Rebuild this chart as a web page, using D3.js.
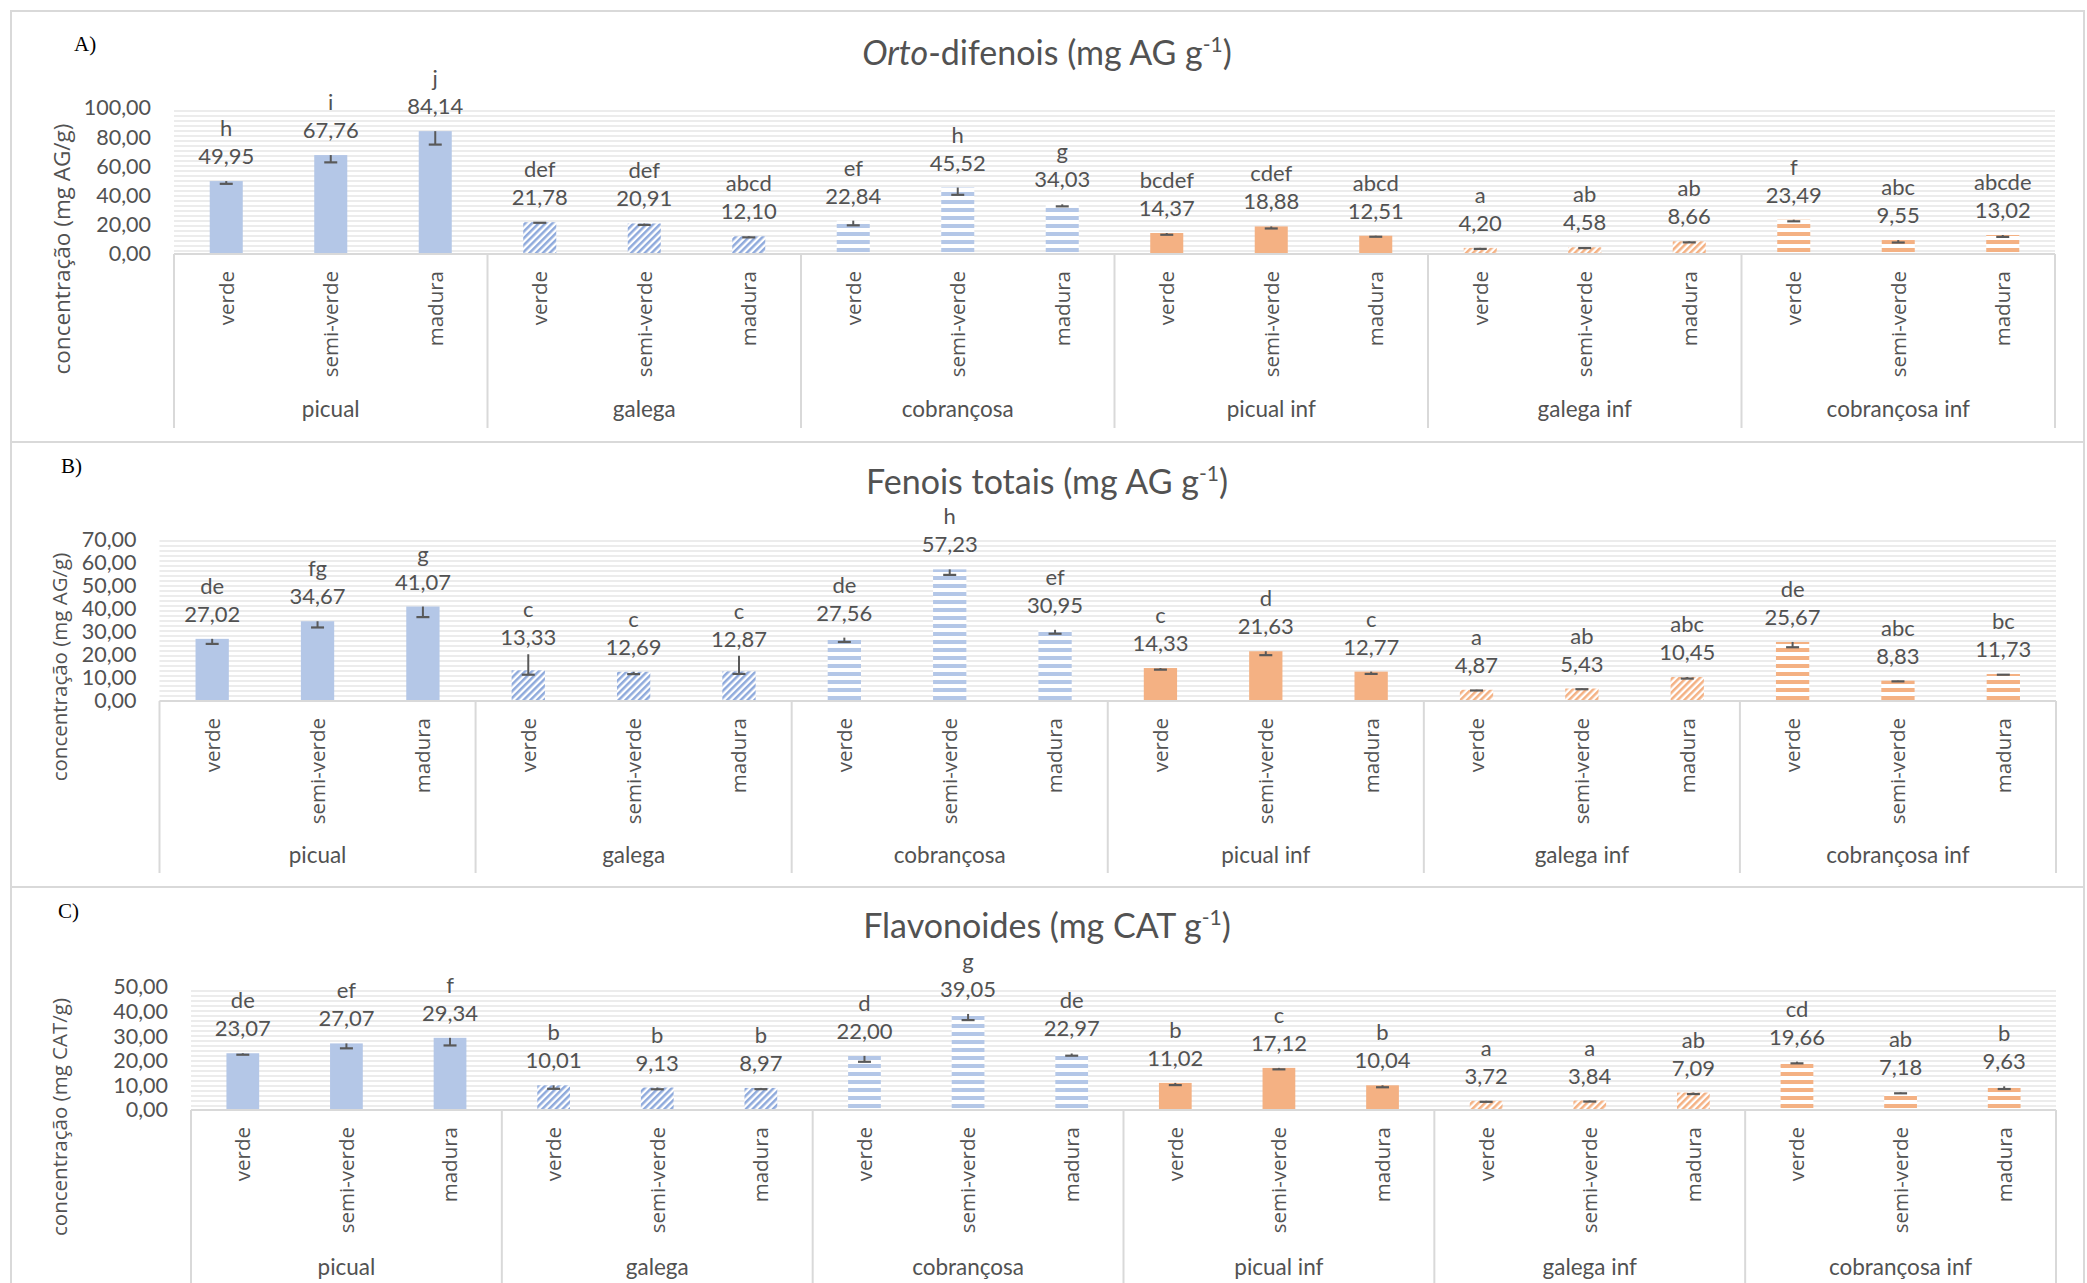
<!DOCTYPE html>
<html><head><meta charset="utf-8">
<script src="https://cdn.jsdelivr.net/npm/d3@7"></script>
<style>body{margin:0;background:#fff}</style>
</head><body><svg id="c" width="2087" height="1283" xmlns="http://www.w3.org/2000/svg"></svg>
<script>
// ---------- DATA ----------
const groups = ["picual", "galega", "cobrançosa", "picual inf", "galega inf", "cobrançosa inf"];
const stages = ["verde", "semi-verde", "madura"];

// A) Orto-difenois
const ortoValues  = [49.95, 67.76, 84.14, 21.78, 20.91, 12.10, 22.84, 45.52, 34.03, 14.37, 18.88, 12.51, 4.20, 4.58, 8.66, 23.49, 9.55, 13.02];
const ortoLetters = ["h", "i", "j", "def", "def", "abcd", "ef", "h", "g", "bcdef", "cdef", "abcd", "a", "ab", "ab", "f", "abc", "abcde"];
const ortoErrMinus = [1.9, 5.0, 9.2, 0.4, 1.0, 0.7, 3.2, 5.0, 1.4, 1.2, 1.4, 0.7, 0.7, 0.5, 0.7, 1.1, 1.7, 1.3];
const ortoErrPlus  = [0, 0, 0, 0, 0, 0, 0, 0, 0, 0, 0, 0, 0, 0, 0, 0, 0, 0];
const ortoTicks = [0, 20, 40, 60, 80, 100];

// B) Fenois totais
const fenValues  = [27.02, 34.67, 41.07, 13.33, 12.69, 12.87, 27.56, 57.23, 30.95, 14.33, 21.63, 12.77, 4.87, 5.43, 10.45, 25.67, 8.83, 11.73];
const fenLetters = ["de", "fg", "g", "c", "c", "c", "de", "h", "ef", "c", "d", "c", "a", "ab", "abc", "de", "abc", "bc"];
const fenErrMinus = [2.2, 2.7, 4.6, 1.9, 1.0, 1.1, 1.9, 2.4, 1.7, 0.7, 1.7, 1.0, 0.3, 0.3, 0.7, 2.3, 0.3, 0.3];
const fenErrPlus  = [0, 0, 0, 7.0, 0, 6.8, 0, 0, 0, 0, 0, 0, 0, 0, 0, 0, 0, 0];
const fenTicks = [0, 10, 20, 30, 40, 50, 60, 70];

// C) Flavonoides
const flaValues  = [23.07, 27.07, 29.34, 10.01, 9.13, 8.97, 22.00, 39.05, 22.97, 11.02, 17.12, 10.04, 3.72, 3.84, 7.09, 19.66, 7.18, 9.63];
const flaLetters = ["de", "ef", "f", "b", "b", "b", "d", "g", "de", "b", "c", "b", "a", "a", "ab", "cd", "ab", "b"];
const flaErrMinus = [0.6, 2.0, 3.1, 1.4, 0.7, 0.5, 2.4, 2.5, 0.9, 0.9, 0.6, 0.8, 0.4, 0.4, 0.6, 0.7, 0.4, 1.1];
const flaErrPlus  = [0, 0, 0, 0, 0, 0, 0, 0, 0, 0, 0, 0, 0, 0, 0, 0, 0, 0];
const flaTicks = [0, 10, 20, 30, 40, 50];

// ---------- STYLE ----------
const TXT = "#525252";
const CAL = "Lato, 'Open Sans', sans-serif";
const SEG = "'Open Sans', 'Noto Sans', sans-serif";
const GRID = "#d9d9d9";
const groupFill = ["#b4c7e7", "url(#diagBlue)", "url(#horBlue)", "#f4b183", "url(#diagOrange)", "url(#horOrange)"];

const svg = d3.select("#c");
const defs = svg.append("defs");

function stripePattern(id, color, w, band, rot, bg) {
  const p = defs.append("pattern").attr("id", id).attr("patternUnits", "userSpaceOnUse")
    .attr("width", rot ? w : 10).attr("height", rot ? 10 : w);
  if (rot) p.attr("patternTransform", "rotate(" + rot + ")");
  p.append("rect").attr("width", rot ? w : 10).attr("height", rot ? 10 : w).attr("fill", bg || "#fff");
  if (rot) p.append("rect").attr("x", 0).attr("y", 0).attr("width", band).attr("height", 10).attr("fill", color);
  else p.append("rect").attr("x", 0).attr("y", 0).attr("width", 10).attr("height", band).attr("fill", color);
}
stripePattern("diagBlue", "#8faadc", 4.8, 2.5, 45);
stripePattern("diagOrange", "#f4b183", 4.8, 2.5, 45);
stripePattern("horBlue", "#b4c7e7", 8, 4, 0);
stripePattern("horOrange", "#f4b183", 8, 4, 0);
stripePattern("plotBg", "#ececec", 5, 2, 0);

const fmt = v => d3.format(".2f")(v).replace(".", ",");
const keys = [];
groups.forEach(g => stages.forEach(s => keys.push(g + "|" + s)));

function drawPanel(cfg, values, letters, errMinus, errPlus, ticks) {
  const g = svg.append("g");
  // panel border
  g.append("rect").attr("x", 11).attr("y", cfg.top).attr("width", 2073).attr("height", cfg.bottom - cfg.top)
    .attr("fill", "#fff").attr("stroke", GRID).attr("stroke-width", 2);

  const x = d3.scaleBand().domain(keys).range([cfg.left, cfg.right]).paddingInner(0.684).paddingOuter(0.342);
  const xg = d3.scaleBand().domain(groups).range([cfg.left, cfg.right]);
  const y = d3.scaleLinear().domain([0, d3.max(ticks)]).range([cfg.y0, cfg.yTop]);

  // plot background
  g.append("rect").attr("x", cfg.left).attr("y", y(d3.max(ticks))).attr("width", cfg.right - cfg.left)
    .attr("height", cfg.y0 - y(d3.max(ticks))).attr("fill", "url(#plotBg)");

  // title
  const t = g.append("text").attr("x", 1047).attr("y", cfg.top + cfg.titleDy).attr("text-anchor", "middle")
    .attr("font-family", CAL).attr("font-size", 34).attr("fill", TXT);
  cfg.title.forEach(p => {
    const ts = t.append("tspan").text(p.t);
    if (p.italic) ts.attr("font-style", "italic");
    if (p.sup) ts.attr("font-size", 21).attr("dy", -13);
    if (p.after) ts.attr("dy", 13);
  });

  // panel letter
  g.append("text").attr("x", cfg.lx).attr("y", cfg.top + cfg.ly).text(cfg.label)
    .attr("font-family", "'Liberation Serif', serif").attr("font-size", 21).attr("fill", "#000");

  // y axis
  const ya = d3.axisLeft(y).tickValues(ticks).tickSize(0).tickPadding(23).tickFormat(fmt);
  const yag = g.append("g").attr("transform", "translate(" + cfg.left + ",0)").call(ya);
  yag.select(".domain").remove();
  yag.selectAll("text").attr("font-family", CAL).attr("font-size", 21.5).attr("fill", TXT);

  // y title
  g.append("text").attr("transform", "translate(" + cfg.ytx + "," + cfg.yty + ") rotate(-90)")
    .attr("text-anchor", "middle").attr("dy", "0.35em").text(cfg.yTitle)
    .attr("font-family", SEG).attr("font-size", cfg.ytSize).attr("fill", TXT);

  // bars
  keys.forEach((k, i) => {
    const gi = Math.floor(i / 3);
    g.append("rect").attr("x", x(k)).attr("y", y(values[i])).attr("width", x.bandwidth())
      .attr("height", cfg.y0 - y(values[i])).attr("fill", groupFill[gi]);
  });

  // error bars
  keys.forEach((k, i) => {
    const cx = x(k) + x.bandwidth() / 2;
    const yl = y(values[i] - errMinus[i]);
    g.append("line").attr("x1", cx).attr("x2", cx).attr("y1", y(values[i] + errPlus[i])).attr("y2", yl)
      .attr("stroke", "#595959").attr("stroke-width", 2);
    g.append("line").attr("x1", cx - 6.5).attr("x2", cx + 6.5).attr("y1", yl).attr("y2", yl)
      .attr("stroke", "#595959").attr("stroke-width", 2.2);
  });

  // data labels
  keys.forEach((k, i) => {
    const cx = x(k) + x.bandwidth() / 2;
    const yb = y(values[i]) - 17 - 0.5 * (y(values[i]) - y(values[i] + errPlus[i]));
    g.append("text").attr("x", cx).attr("y", yb).attr("text-anchor", "middle").text(fmt(values[i]))
      .attr("font-family", CAL).attr("font-size", 22).attr("fill", TXT);
    g.append("text").attr("x", cx).attr("y", yb - 28).attr("text-anchor", "middle").text(letters[i])
      .attr("font-family", CAL).attr("font-size", 22).attr("fill", TXT);
  });

  // category axis
  g.append("line").attr("x1", cfg.left).attr("x2", cfg.right).attr("y1", cfg.y0).attr("y2", cfg.y0)
    .attr("stroke", GRID).attr("stroke-width", 2);
  const seps = groups.map(gr => xg(gr)).concat([cfg.right]);
  seps.forEach(sx => g.append("line").attr("x1", sx).attr("x2", sx).attr("y1", cfg.y0).attr("y2", cfg.sepBottom)
    .attr("stroke", GRID).attr("stroke-width", 2));

  keys.forEach((k, i) => {
    const cx = x(k) + x.bandwidth() / 2;
    g.append("text").attr("transform", "translate(" + cx + "," + (cfg.y0 + 17) + ") rotate(-90)")
      .attr("text-anchor", "end").attr("dy", "0.36em").text(stages[i % 3])
      .attr("font-family", SEG).attr("font-size", 20.5).attr("fill", TXT);
  });
  groups.forEach(gr => {
    g.append("text").attr("x", xg(gr) + xg.bandwidth() / 2).attr("y", cfg.groupBase).attr("text-anchor", "middle")
      .text(gr).attr("font-family", CAL).attr("font-size", 22.5).attr("fill", TXT);
  });
}

drawPanel({top: 11, bottom: 442, left: 174, right: 2055, y0: 254, yTop: 108, titleDy: 54,
  title: [{t: "Orto", italic: true}, {t: "-difenois (mg AG g"}, {t: "-1", sup: true}, {t: ")", after: true}],
  label: "A)", lx: 74, ly: 40, yTitle: "concentração (mg AG/g)", ytx: 62, yty: 249, ytSize: 22.5,
  sepBottom: 428, groupBase: 417}, ortoValues, ortoLetters, ortoErrMinus, ortoErrPlus, ortoTicks);

drawPanel({top: 442, bottom: 887, left: 159.5, right: 2056, y0: 701, yTop: 540, titleDy: 52,
  title: [{t: "Fenois totais (mg AG g"}, {t: "-1", sup: true}, {t: ")", after: true}],
  label: "B)", lx: 61, ly: 31, yTitle: "concentração (mg AG/g)", ytx: 60, yty: 667, ytSize: 20.5,
  sepBottom: 873, groupBase: 863}, fenValues, fenLetters, fenErrMinus, fenErrPlus, fenTicks);

drawPanel({top: 887, bottom: 1300, left: 191, right: 2056, y0: 1110, yTop: 987, titleDy: 51,
  title: [{t: "Flavonoides (mg CAT g"}, {t: "-1", sup: true}, {t: ")", after: true}],
  label: "C)", lx: 58, ly: 31, yTitle: "concentração (mg CAT/g)", ytx: 60, yty: 1117, ytSize: 20.5,
  sepBottom: 1283, groupBase: 1275}, flaValues, flaLetters, flaErrMinus, flaErrPlus, flaTicks);
</script></body></html>
